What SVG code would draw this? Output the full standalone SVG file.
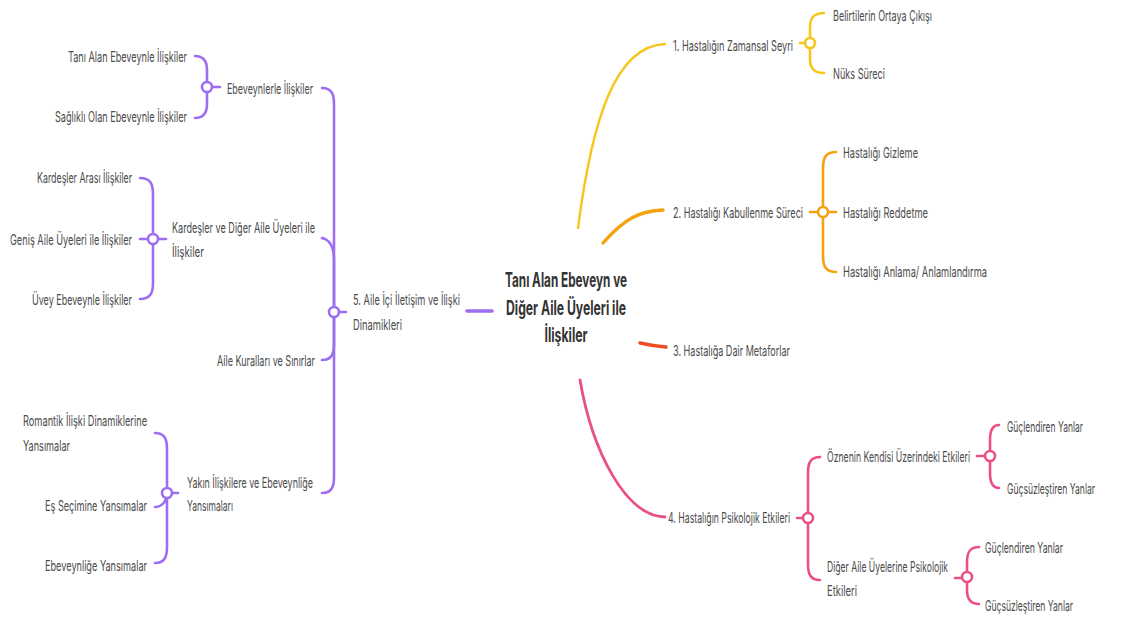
<svg xmlns="http://www.w3.org/2000/svg" width="1130" height="618" viewBox="0 0 1130 618">
  <style>
    .t { font-family: Inter, "Noto Sans", "Liberation Sans", sans-serif; font-size: 14.5px; fill: #4d4d4d; }
    .root { font-family: Inter, "Noto Sans", "Liberation Sans", sans-serif; font-size: 19.5px; font-weight: 700; fill: #333333; }
    .ln { fill: none; stroke-linecap: round; stroke-linejoin: round; stroke-width: 2.6; }
    .dot { fill: #ffffff; stroke-width: 2.6; }
    .p { stroke: #9d6ef2; }
    .y { stroke: #f7c51c; }
    .o { stroke: #f4a20e; }
    .r { stroke: #ee4b22; }
    .k { stroke: #eb4f88; }
  </style>
  <rect width="1130" height="618" fill="#ffffff"/>

  <!-- connectors -->
  <g id="connectors">
    <!-- main branches from the central topic -->
    <path class="ln y" d="M578 228 C592 120 615 46 665 44" style="stroke-width:2.4"/>
    <path class="ln o" d="M603 243 C625 218 640 211 663 210" style="stroke-width:3.4"/>
    <path class="ln r" d="M640 343 Q653 346 666 347" style="stroke-width:3.4"/>
    <path class="ln k" d="M580 380 C592 450 625 516 665 517" style="stroke-width:2.8"/>
    <path class="ln p" d="M467 311 H492" style="stroke-width:3.6"/>

    <!-- 5. Aile İçi İletişim spine -->
    <path class="ln p" d="M322 88 C331.6 88 334 94 334 104 L334 312"/>
    <path class="ln p" d="M322 238 C331 240 334 248 334 260 L334 312"/>
    <path class="ln p" d="M322 360 C331.6 360 334 354 334 344 L334 312"/>
    <path class="ln p" d="M322 493 C331.6 493 334 487 334 477 L334 312"/>
    <path class="ln p" d="M334 312 H346"/>

    <!-- Ebeveynlerle İlişkiler -->
    <path class="ln p" d="M195 56 C204.6 56 207 62 207 70 L207 87"/>
    <path class="ln p" d="M195 118 C204.6 118 207 112 207 104 L207 87"/>
    <path class="ln p" d="M207 87 H220"/>

    <!-- Kardeşler ve Diğer Aile Üyeleri ile İlişkiler -->
    <path class="ln p" d="M140 178 C150.4 178 153 184 153 194 L153 239"/>
    <path class="ln p" d="M140 239 H166"/>
    <path class="ln p" d="M140 299 C150.4 299 153 293 153 283 L153 239"/>

    <!-- Yakın İlişkilere ve Ebeveynliğe Yansımaları -->
    <path class="ln p" d="M155 433 C164.6 433 167 439 167 449 L167 493"/>
    <path class="ln p" d="M155 507 C162 507 167 501 167 493"/>
    <path class="ln p" d="M155 563 C164.6 563 167 557 167 547 L167 493"/>
    <path class="ln p" d="M167 493 H178"/>

    <!-- 1. Hastalığın Zamansal Seyri -->
    <path class="ln y" d="M800 43 H810"/>
    <path class="ln y" d="M824 13 C812.8 13 810 19 810 27 L810 43"/>
    <path class="ln y" d="M824 73 C812.8 73 810 67 810 59 L810 43"/>

    <!-- 2. Hastalığı Kabullenme Süreci -->
    <path class="ln o" d="M810 212 H836"/>
    <path class="ln o" d="M836 152 C825.6 152 823 158 823 168 L823 212"/>
    <path class="ln o" d="M836 272 C825.6 272 823 266 823 256 L823 212"/>

    <!-- 4. Hastalığın Psikolojik Etkileri -->
    <path class="ln k" d="M797 518 H808"/>
    <path class="ln k" d="M820 457 C810.4 457 808 463 808 473 L808 518"/>
    <path class="ln k" d="M820 580 C810.4 580 808 574 808 564 L808 518"/>

    <!-- Öznenin Kendisi Üzerindeki Etkileri -->
    <path class="ln k" d="M977 456 H990"/>
    <path class="ln k" d="M999 425 C991.8 425 990 431 990 440 L990 456"/>
    <path class="ln k" d="M999 488 C991.8 488 990 482 990 473 L990 456"/>

    <!-- Diğer Aile Üyelerine Psikolojik Etkileri -->
    <path class="ln k" d="M955 578 H967"/>
    <path class="ln k" d="M979 547 C969.4 547 967 553 967 562 L967 577"/>
    <path class="ln k" d="M979 604 C969.4 604 967 598 967 590 L967 577"/>

    <!-- junction dots -->
    <circle class="dot p" cx="334" cy="312" r="5"/>
    <circle class="dot p" cx="207" cy="87" r="5"/>
    <circle class="dot p" cx="153" cy="239" r="5"/>
    <circle class="dot p" cx="167" cy="493" r="5"/>
    <circle class="dot y" cx="810" cy="43" r="5"/>
    <circle class="dot o" cx="823" cy="212" r="5"/>
    <circle class="dot k" cx="808" cy="518" r="5"/>
    <circle class="dot k" cx="990" cy="456" r="5"/>
    <circle class="dot k" cx="967" cy="577" r="5"/>
  </g>

  <!-- central topic (condensed lettering) -->
  <g id="root">
    <text class="root" transform="translate(566 287) scale(0.75 1)" text-anchor="middle" textLength="162.7" lengthAdjust="spacingAndGlyphs">Tanı Alan Ebeveyn ve</text>
    <text class="root" transform="translate(566 314.5) scale(0.75 1)" text-anchor="middle" textLength="160" lengthAdjust="spacingAndGlyphs">Diğer Aile Üyeleri ile</text>
    <text class="root" transform="translate(566 342) scale(0.75 1)" text-anchor="middle" textLength="57.3" lengthAdjust="spacingAndGlyphs">İlişkiler</text>
  </g>

  <!-- branch 5 (left side); labels use a 0.65 horizontal squeeze -->
  <g id="n5">
    <text class="t" transform="translate(353 305) scale(0.65 1)" textLength="164.6" lengthAdjust="spacingAndGlyphs">5. Aile İçi İletişim ve İlişki</text>
    <text class="t" transform="translate(353 330) scale(0.65 1)" textLength="75.4" lengthAdjust="spacingAndGlyphs">Dinamikleri</text>
  </g>
  <g id="n5-1">
    <text class="t" transform="translate(227 94) scale(0.65 1)" textLength="132.3" lengthAdjust="spacingAndGlyphs">Ebeveynlerle İlişkiler</text>
  </g>
  <g id="n5-1-1">
    <text class="t" transform="translate(68 62) scale(0.65 1)" textLength="183.1" lengthAdjust="spacingAndGlyphs">Tanı Alan Ebeveynle İlişkiler</text>
  </g>
  <g id="n5-1-2">
    <text class="t" transform="translate(55 122) scale(0.65 1)" textLength="203.1" lengthAdjust="spacingAndGlyphs">Sağlıklı Olan Ebeveynle İlişkiler</text>
  </g>
  <g id="n5-2">
    <text class="t" transform="translate(172 233) scale(0.65 1)" textLength="220" lengthAdjust="spacingAndGlyphs">Kardeşler ve Diğer Aile Üyeleri ile</text>
    <text class="t" transform="translate(172 257) scale(0.65 1)" textLength="49.2" lengthAdjust="spacingAndGlyphs">İlişkiler</text>
  </g>
  <g id="n5-2-1">
    <text class="t" transform="translate(37 183) scale(0.65 1)" textLength="146.2" lengthAdjust="spacingAndGlyphs">Kardeşler Arası İlişkiler</text>
  </g>
  <g id="n5-2-2">
    <text class="t" transform="translate(10 245) scale(0.65 1)" textLength="187.7" lengthAdjust="spacingAndGlyphs">Geniş Aile Üyeleri ile İlişkiler</text>
  </g>
  <g id="n5-2-3">
    <text class="t" transform="translate(32 305) scale(0.65 1)" textLength="153.8" lengthAdjust="spacingAndGlyphs">Üvey Ebeveynle İlişkiler</text>
  </g>
  <g id="n5-3">
    <text class="t" transform="translate(217 366) scale(0.65 1)" textLength="150.8" lengthAdjust="spacingAndGlyphs">Aile Kuralları ve Sınırlar</text>
  </g>
  <g id="n5-4">
    <text class="t" transform="translate(187 488) scale(0.65 1)" textLength="193.8" lengthAdjust="spacingAndGlyphs">Yakın İlişkilere ve Ebeveynliğe</text>
    <text class="t" transform="translate(187 511) scale(0.65 1)" textLength="70.8" lengthAdjust="spacingAndGlyphs">Yansımaları</text>
  </g>
  <g id="n5-4-1">
    <text class="t" transform="translate(23 426) scale(0.65 1)" textLength="190.8" lengthAdjust="spacingAndGlyphs">Romantik İlişki Dinamiklerine</text>
    <text class="t" transform="translate(23 451) scale(0.65 1)" textLength="72.3" lengthAdjust="spacingAndGlyphs">Yansımalar</text>
  </g>
  <g id="n5-4-2">
    <text class="t" transform="translate(45 511) scale(0.65 1)" textLength="156.9" lengthAdjust="spacingAndGlyphs">Eş Seçimine Yansımalar</text>
  </g>
  <g id="n5-4-3">
    <text class="t" transform="translate(45 571) scale(0.65 1)" textLength="156.9" lengthAdjust="spacingAndGlyphs">Ebeveynliğe Yansımalar</text>
  </g>

  <!-- branch 1 -->
  <g id="n1">
    <text class="t" transform="translate(673 51) scale(0.65 1)" textLength="184.6" lengthAdjust="spacingAndGlyphs">1. Hastalığın Zamansal Seyri</text>
  </g>
  <g id="n1-1">
    <text class="t" transform="translate(833 21) scale(0.65 1)" textLength="152.3" lengthAdjust="spacingAndGlyphs">Belirtilerin Ortaya Çıkışı</text>
  </g>
  <g id="n1-2">
    <text class="t" transform="translate(833 79) scale(0.65 1)" textLength="80" lengthAdjust="spacingAndGlyphs">Nüks Süreci</text>
  </g>

  <!-- branch 2 -->
  <g id="n2">
    <text class="t" transform="translate(673 218) scale(0.65 1)" textLength="200" lengthAdjust="spacingAndGlyphs">2. Hastalığı Kabullenme Süreci</text>
  </g>
  <g id="n2-1">
    <text class="t" transform="translate(843 158) scale(0.65 1)" textLength="115.4" lengthAdjust="spacingAndGlyphs">Hastalığı Gizleme</text>
  </g>
  <g id="n2-2">
    <text class="t" transform="translate(843 218) scale(0.65 1)" textLength="130.8" lengthAdjust="spacingAndGlyphs">Hastalığı Reddetme</text>
  </g>
  <g id="n2-3">
    <text class="t" transform="translate(843 277) scale(0.65 1)" textLength="221.5" lengthAdjust="spacingAndGlyphs">Hastalığı Anlama/ Anlamlandırma</text>
  </g>

  <!-- branch 3 -->
  <g id="n3">
    <text class="t" transform="translate(673 356) scale(0.65 1)" textLength="180" lengthAdjust="spacingAndGlyphs">3. Hastalığa Dair Metaforlar</text>
  </g>

  <!-- branch 4 -->
  <g id="n4">
    <text class="t" transform="translate(668 523) scale(0.65 1)" textLength="187.7" lengthAdjust="spacingAndGlyphs">4. Hastalığın Psikolojik Etkileri</text>
  </g>
  <g id="n4-1">
    <text class="t" transform="translate(827 462) scale(0.65 1)" textLength="220" lengthAdjust="spacingAndGlyphs">Öznenin Kendisi Üzerindeki Etkileri</text>
  </g>
  <g id="n4-1-1">
    <text class="t" transform="translate(1007 432) scale(0.65 1)" textLength="116.9" lengthAdjust="spacingAndGlyphs">Güçlendiren Yanlar</text>
  </g>
  <g id="n4-1-2">
    <text class="t" transform="translate(1007 494) scale(0.65 1)" textLength="135.4" lengthAdjust="spacingAndGlyphs">Güçsüzleştiren Yanlar</text>
  </g>
  <g id="n4-2">
    <text class="t" transform="translate(827 572) scale(0.65 1)" textLength="186.2" lengthAdjust="spacingAndGlyphs">Diğer Aile Üyelerine Psikolojik</text>
    <text class="t" transform="translate(827 596) scale(0.65 1)" textLength="46.2" lengthAdjust="spacingAndGlyphs">Etkileri</text>
  </g>
  <g id="n4-2-1">
    <text class="t" transform="translate(985 553) scale(0.65 1)" textLength="120" lengthAdjust="spacingAndGlyphs">Güçlendiren Yanlar</text>
  </g>
  <g id="n4-2-2">
    <text class="t" transform="translate(985 611) scale(0.65 1)" textLength="135.4" lengthAdjust="spacingAndGlyphs">Güçsüzleştiren Yanlar</text>
  </g>
</svg>
